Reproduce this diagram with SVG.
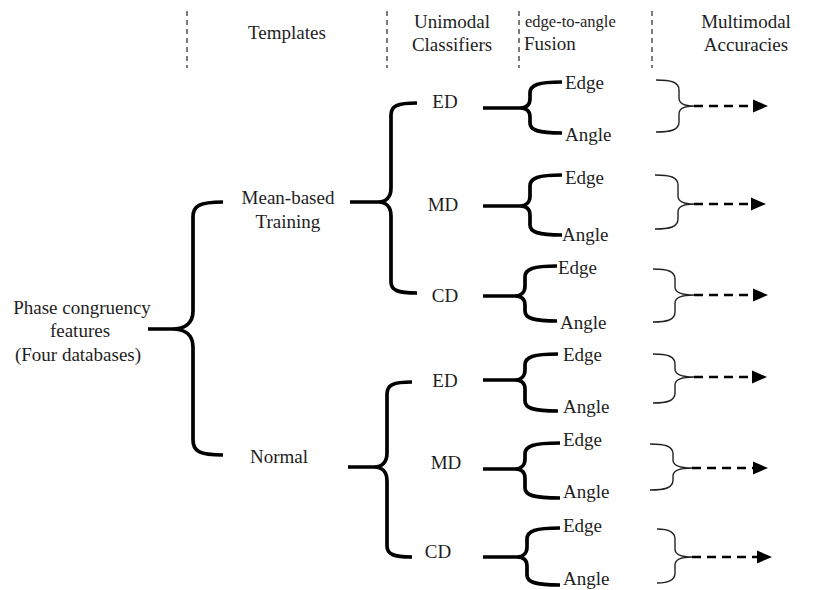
<svg xmlns="http://www.w3.org/2000/svg" width="834" height="590" viewBox="0 0 834 590">
<style>
text{font-family:"Liberation Serif","Times New Roman",serif;font-size:19px;fill:#1e1e1e}
.c{text-anchor:middle}
.sm{font-size:16.5px}
.sep{stroke:#444;stroke-width:1.4;stroke-dasharray:5 4;fill:none}
.brace{fill:none;stroke:#000;stroke-width:3.7;stroke-linecap:butt;stroke-linejoin:round}
.close{fill:none;stroke:#222;stroke-width:1.4}
.arr{stroke:#000;stroke-width:2.5;stroke-dasharray:9 6;fill:none;marker-end:url(#ah)}
</style>
<defs>
<marker id="ah" markerWidth="15" markerHeight="14" refX="0" refY="7" orient="auto" markerUnits="userSpaceOnUse">
<path d="M0,0.5 L15,7 L0,13.5 z" fill="#000"/>
</marker>
</defs>
<rect width="834" height="590" fill="#fff"/>
<g id="header">
<line class="sep" x1="187" y1="11" x2="187" y2="68"/>
<line class="sep" x1="387" y1="11" x2="387" y2="68"/>
<line class="sep" x1="519" y1="11" x2="519" y2="68"/>
<line class="sep" x1="652" y1="11" x2="652" y2="68"/>
<text class="c" x="287" y="39">Templates</text>
<text class="c" x="452" y="28">Unimodal</text>
<text class="c" x="452" y="51">Classifiers</text>
<text class="sm" x="525" y="27">edge-to-angle</text>
<text x="524" y="50">Fusion</text>
<text class="c" x="746" y="28">Multimodal</text>
<text class="c" x="746" y="51">Accuracies</text>
</g>
<g id="connectors">
<path class="brace" d="M223,202 C199,202 193,206 193,217 L193,311 C193,323 185,329 172,329 L148,329 M172,329 C185,329 193,335 193,347 L193,440 C193,451 199,455 223,455"/>
<path class="brace" d="M417,103 C397,103 391,106 391,115 L391,188 C391,197 386,202 378,202 L350,202 M378,202 C386,202 391,207 391,216 L391,282 C391,290 397,293 417,293"/>
<path class="brace" d="M412,382 C393,382 387,385 387,394 L387,453 C387,462 382,467 374,467 L348,467 M374,467 C382,467 387,472 387,481 L387,546 C387,554 393,557 412,557"/>
<path class="brace" d="M562,82 C538,82 530,85 530,93 L530,99 C530,105 526,108 520,108 L483,108 M520,108 C526,108 530,111 530,117 L530,123 C530,130 538,133 562,133"/>
<path class="brace" d="M562,175 C538,175 530,178 530,186 L530,196 C530,202 526,206 520,206 L483,206 M520,206 C526,206 530,209 530,215 L530,225 C530,232 538,235 562,235"/>
<path class="brace" d="M557,266 C533,266 525,269 525,277 L525,286 C525,292 521,296 515,296 L483,296 M515,296 C521,296 525,299 525,305 L525,311 C525,318 533,321 557,321"/>
<path class="brace" d="M558,354 C533,354 525,357 525,365 L525,370 C525,376 521,380 515,380 L483,380 M515,380 C521,380 525,383 525,389 L525,401 C525,408 533,411 558,411"/>
<path class="brace" d="M560,443 C533,443 525,446 525,454 L525,459 C525,465 521,469 515,469 L483,469 M515,469 C521,469 525,472 525,478 L525,488 C525,495 533,498 560,498"/>
<path class="brace" d="M560,528 C535,528 527,531 527,539 L527,547 C527,553 523,557 517,557 L483,557 M517,557 C523,557 527,560 527,566 L527,575 C527,582 535,585 560,585"/>
<path class="close" d="M656,80 C671,80 679,82 679,90 L679,98 C679,103 684,106 694,106 M694,106 C684,106 679,109 679,114 L679,122 C679,130 671,132 656,132"/>
<path class="close" d="M655,175 C670,175 678,177 678,185 L678,196 C678,201 683,204 694,204 M694,204 C683,204 678,207 678,212 L678,219 C678,227 670,229 655,229"/>
<path class="close" d="M653,269 C667,269 675,271 675,279 L675,287 C675,292 680,295 694,295 M694,295 C680,295 675,298 675,303 L675,312 C675,320 667,322 653,322"/>
<path class="close" d="M653,354 C667,354 675,356 675,364 L675,369 C675,374 680,377 694,377 M694,377 C680,377 675,380 675,385 L675,393 C675,401 667,403 653,403"/>
<path class="close" d="M650,444 C665,444 673,446 673,454 L673,460 C673,465 678,468 692,468 M692,468 C678,468 673,471 673,476 L673,480 C673,488 665,490 650,490"/>
<path class="close" d="M657,529 C667,529 675,531 675,539 L675,549 C675,554 680,557 692,557 M692,557 C680,557 675,560 675,565 L675,573 C675,581 667,583 657,583"/>
<line class="arr" x1="694" y1="106" x2="753" y2="106"/>
<line class="arr" x1="694" y1="204" x2="751" y2="204"/>
<line class="arr" x1="694" y1="295" x2="753" y2="295"/>
<line class="arr" x1="694" y1="377" x2="752" y2="377"/>
<line class="arr" x1="692" y1="468" x2="753" y2="468"/>
<line class="arr" x1="692" y1="557" x2="757" y2="557"/>
</g>
<g id="root">
<text class="c" x="82" y="314">Phase congruency</text>
<text class="c" x="80" y="337">features</text>
<text class="c" x="78" y="361">(Four databases)</text>
</g>
<g id="mean-based">
<text class="c" x="288" y="204">Mean-based</text>
<text class="c" x="288" y="228">Training</text>
</g>
<g id="normal"><text class="c" x="279" y="463">Normal</text></g>
<g id="mb-ed"><text class="c" x="445" y="108">ED</text></g>
<g id="mb-md"><text class="c" x="443" y="211">MD</text></g>
<g id="mb-cd"><text class="c" x="445" y="302">CD</text></g>
<g id="n-ed"><text class="c" x="445" y="387">ED</text></g>
<g id="n-md"><text class="c" x="446" y="469">MD</text></g>
<g id="n-cd"><text class="c" x="438" y="558">CD</text></g>
<g id="f1"><text x="565" y="89">Edge</text><text x="565" y="141">Angle</text></g>
<g id="f2"><text x="565" y="184">Edge</text><text x="562" y="241">Angle</text></g>
<g id="f3"><text x="558" y="274">Edge</text><text x="560" y="329">Angle</text></g>
<g id="f4"><text x="563" y="361">Edge</text><text x="563" y="413">Angle</text></g>
<g id="f5"><text x="563" y="446">Edge</text><text x="563" y="498">Angle</text></g>
<g id="f6"><text x="563" y="532">Edge</text><text x="563" y="585">Angle</text></g>
</svg>
